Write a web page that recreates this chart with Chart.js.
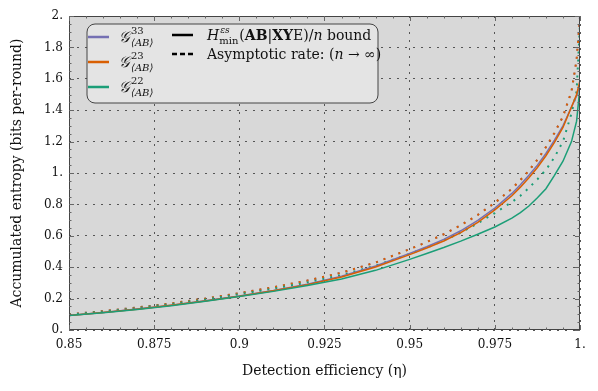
<!DOCTYPE html>
<html>
<head>
<meta charset="utf-8">
<script src="https://cdn.jsdelivr.net/npm/chart.js@4.4.0/dist/chart.umd.min.js"></script>
<style>
  body { margin: 0; background: #fff; }
</style>
</head>
<body>
<canvas id="myChart" width="598" height="391"></canvas>
<script>
// data
var etaVals = [0.85, 0.86, 0.87, 0.88, 0.89, 0.9, 0.91, 0.92, 0.93, 0.94, 0.95, 0.955, 0.96, 0.965, 0.97, 0.975, 0.98, 0.9825, 0.985, 0.9875, 0.99, 0.9925, 0.995, 0.9975, 0.999, 1.0];

var bound33 = [0.093, 0.112, 0.133, 0.158, 0.186, 0.217, 0.252, 0.292, 0.343, 0.408, 0.488, 0.53, 0.577, 0.632, 0.698, 0.777, 0.87, 0.925, 0.985, 1.05, 1.125, 1.21, 1.30, 1.42, 1.49, 1.56];
var bound23 = [0.093, 0.111, 0.132, 0.157, 0.185, 0.215, 0.25, 0.289, 0.338, 0.401, 0.48, 0.522, 0.567, 0.62, 0.686, 0.765, 0.855, 0.91, 0.97, 1.035, 1.11, 1.195, 1.29, 1.42, 1.5, 1.59];
var bound22 = [0.092, 0.11, 0.131, 0.155, 0.183, 0.213, 0.246, 0.283, 0.325, 0.38, 0.45, 0.487, 0.525, 0.566, 0.61, 0.656, 0.712, 0.748, 0.79, 0.842, 0.9, 0.985, 1.075, 1.2, 1.33, 1.55];

var asym33 = [0.10, 0.12, 0.143, 0.17, 0.2, 0.235, 0.272, 0.315, 0.365, 0.43, 0.515, 0.56, 0.61, 0.667, 0.733, 0.81, 0.9, 0.955, 1.015, 1.085, 1.165, 1.255, 1.36, 1.52, 1.72, 2.0];
var asym23 = [0.10, 0.12, 0.143, 0.17, 0.2, 0.235, 0.272, 0.315, 0.365, 0.43, 0.515, 0.56, 0.61, 0.667, 0.733, 0.81, 0.9, 0.955, 1.015, 1.085, 1.165, 1.255, 1.36, 1.52, 1.72, 1.99];
var asym22 = [0.098, 0.117, 0.139, 0.165, 0.194, 0.228, 0.263, 0.303, 0.35, 0.41, 0.484, 0.525, 0.57, 0.62, 0.68, 0.745, 0.815, 0.855, 0.905, 0.96, 1.02, 1.1, 1.2, 1.38, 1.52, 1.95];

var xTicks = [0.85, 0.875, 0.9, 0.925, 0.95, 0.975, 1.0];
var xTickLabels = ["0.85", "0.875", "0.9", "0.925", "0.95", "0.975", "1."];
var yTicks = [0, 0.2, 0.4, 0.6, 0.8, 1.0, 1.2, 1.4, 1.6, 1.8, 2.0];
var yTickLabels = ["0.", "0.2", "0.4", "0.6", "0.8", "1.", "1.2", "1.4", "1.6", "1.8", "2."];

var purple = "#7570b3";
var orange = "#d95f02";
var green = "#1b9e77";
var serif = "'DejaVu Serif', serif";

function pts(vals) {
  return etaVals.map(function(e, i) { return { x: e, y: vals[i] }; });
}

function mkSet(vals, color, dashed) {
  return {
    data: pts(vals),
    borderColor: color,
    backgroundColor: color,
    borderWidth: dashed ? 2 : 1.5,
    borderDash: dashed ? [2, 6] : [],
    pointRadius: 0,
    tension: 0,
    fill: false
  };
}

// plot background, frame and minor ticks
var framePlugin = {
  id: "frame",
  beforeDraw: function(chart) {
    var a = chart.chartArea, ctx = chart.ctx;
    ctx.save();
    ctx.fillStyle = "#d8d8d8";
    ctx.fillRect(a.left, a.top, a.right - a.left, a.bottom - a.top);
    ctx.restore();
  },
  afterDraw: function(chart) {
    var a = chart.chartArea, ctx = chart.ctx;
    var xs = chart.scales.x, ys = chart.scales.y;
    ctx.save();
    ctx.strokeStyle = "#444";
    ctx.lineWidth = 1;
    ctx.strokeRect(a.left + 0.5, a.top + 0.5, a.right - a.left - 1, a.bottom - a.top - 1);
    ctx.strokeStyle = "#666";
    ctx.beginPath();
    for (var i = 0; i <= 30; i++) {
      var px = Math.round(xs.getPixelForValue(0.85 + i * 0.005)) + 0.5;
      var len = (i % 5 === 0) ? 5 : 2.5;
      ctx.moveTo(px, a.bottom); ctx.lineTo(px, a.bottom - len);
      ctx.moveTo(px, a.top); ctx.lineTo(px, a.top + len);
    }
    for (var j = 0; j <= 40; j++) {
      var py = Math.round(ys.getPixelForValue(j * 0.05)) + 0.5;
      var l2 = (j % 4 === 0) ? 5 : 2.5;
      ctx.moveTo(a.left, py); ctx.lineTo(a.left + l2, py);
      ctx.moveTo(a.right, py); ctx.lineTo(a.right - l2, py);
    }
    ctx.stroke();
    ctx.restore();
    drawLegend(ctx);
  }
};

function gLabel(ctx, x, y, sup) {
  ctx.font = "italic 15px " + serif;
  ctx.fillText("𝒢", x, y + 5);
  var w = ctx.measureText("𝒢").width;
  ctx.font = "10px " + serif;
  ctx.fillText(sup, x + w + 1, y - 3);
  ctx.font = "italic 10px " + serif;
  ctx.fillText("⟨AB⟩", x + w + 1, y + 9);
}

function drawLegend(ctx) {
  var x0 = 87, y0 = 24, w = 291, h = 79, r = 8;
  ctx.save();
  ctx.beginPath();
  ctx.moveTo(x0 + r, y0);
  ctx.arcTo(x0 + w, y0, x0 + w, y0 + h, r);
  ctx.arcTo(x0 + w, y0 + h, x0, y0 + h, r);
  ctx.arcTo(x0, y0 + h, x0, y0, r);
  ctx.arcTo(x0, y0, x0 + w, y0, r);
  ctx.closePath();
  ctx.fillStyle = "#e4e4e4";
  ctx.fill();
  ctx.strokeStyle = "#444";
  ctx.lineWidth = 1;
  ctx.stroke();

  var rows = [[purple, "33", 37], [orange, "23", 62], [green, "22", 87]];
  ctx.lineWidth = 2.5;
  rows.forEach(function(rw) {
    ctx.strokeStyle = rw[0];
    ctx.beginPath();
    ctx.moveTo(88, rw[2]); ctx.lineTo(109, rw[2]);
    ctx.stroke();
  });
  ctx.fillStyle = "#111";
  ctx.textBaseline = "alphabetic";
  ctx.textAlign = "left";
  rows.forEach(function(rw) { gLabel(ctx, 119, rw[2], rw[1]); });

  // black sample lines
  ctx.strokeStyle = "#000";
  ctx.lineWidth = 2.5;
  ctx.beginPath();
  ctx.moveTo(172, 35); ctx.lineTo(193, 35);
  ctx.stroke();
  ctx.setLineDash([5, 3]);
  ctx.beginPath();
  ctx.moveTo(172, 54); ctx.lineTo(193, 54);
  ctx.stroke();
  ctx.setLineDash([]);

  // H_min^{eps_s}(AB|XYE)/n bound
  var x = 207, y = 40;
  var parts = [
    ["italic 14px " + serif, "H", 0],
    ["10px " + serif, "min", 4],
    ["14px " + serif, "(", 0],
    ["bold 14px " + serif, "AB", 0],
    ["14px " + serif, "|", 0],
    ["bold 14px " + serif, "XY", 0],
    ["14px " + serif, "E)/", 0],
    ["italic 14px " + serif, "n", 0],
    ["14px " + serif, " bound", 0]
  ];
  var supX = 0;
  parts.forEach(function(p, k) {
    ctx.font = p[0];
    ctx.fillText(p[1], x, y + p[2]);
    if (k === 0) supX = x + ctx.measureText(p[1]).width + 1;
    x += ctx.measureText(p[1]).width + (k === 1 ? 1 : 0);
  });
  ctx.font = "italic 9px " + serif;
  ctx.fillText("εs", supX, y - 7);

  ctx.font = "14px " + serif;
  var t1 = "Asymptotic rate: (";
  ctx.fillText(t1, 207, 59);
  var xx = 207 + ctx.measureText(t1).width;
  ctx.font = "italic 14px " + serif;
  ctx.fillText("n", xx, 59);
  xx += ctx.measureText("n").width;
  ctx.font = "14px " + serif;
  ctx.fillText(" → ∞)", xx, 59);
  ctx.restore();
}

new Chart("myChart", {
  type: "line",
  data: {
    datasets: [
      mkSet(bound22, green, false),
      mkSet(bound23, orange, false),
      mkSet(bound33, purple, false),
      mkSet(asym22, green, true),
      mkSet(asym23, orange, true),
      mkSet(asym33, purple, true)
    ]
  },
  plugins: [framePlugin],
  options: {
    responsive: false,
    animation: false,
    devicePixelRatio: 1,
    layout: { padding: { top: 16, right: 18, left: 0, bottom: 0 } },
    plugins: { legend: { display: false }, tooltip: { enabled: false } },
    scales: {
      x: {
        type: "linear",
        min: 0.85,
        max: 1.0,
        afterBuildTicks: function(scale) {
          scale.ticks = xTicks.map(function(v) { return { value: v }; });
        },
        afterFit: function(scale) { scale.height = 61; },
        ticks: {
          maxRotation: 0,
          autoSkip: false,
          color: "#111",
          font: { family: serif, size: 12 },
          padding: 8,
          callback: function(v) {
            var i = xTicks.findIndex(function(t) { return Math.abs(t - v) < 1e-9; });
            return i >= 0 ? xTickLabels[i] : "";
          }
        },
        grid: { color: "#555", lineWidth: 1, drawTicks: false },
        border: { display: false, dash: [2, 6] },
        title: {
          display: true,
          text: "Detection efficiency (η)",
          color: "#111",
          font: { family: serif, size: 14 },
          padding: { top: 0, bottom: 11 }
        }
      },
      y: {
        min: 0,
        max: 2,
        afterBuildTicks: function(scale) {
          scale.ticks = yTicks.map(function(v) { return { value: v }; });
        },
        afterFit: function(scale) { scale.width = 69; },
        ticks: {
          color: "#111",
          font: { family: serif, size: 12 },
          padding: 6,
          callback: function(v) {
            var i = yTicks.findIndex(function(t) { return Math.abs(t - v) < 1e-9; });
            return i >= 0 ? yTickLabels[i] : "";
          }
        },
        grid: { color: "#555", lineWidth: 1, drawTicks: false },
        border: { display: false, dash: [2, 6] },
        title: {
          display: true,
          text: "Accumulated entropy (bits per-round)",
          color: "#111",
          font: { family: serif, size: 14 },
          padding: { top: 9, bottom: 0 }
        }
      }
    }
  }
});
</script>
</body>
</html>
